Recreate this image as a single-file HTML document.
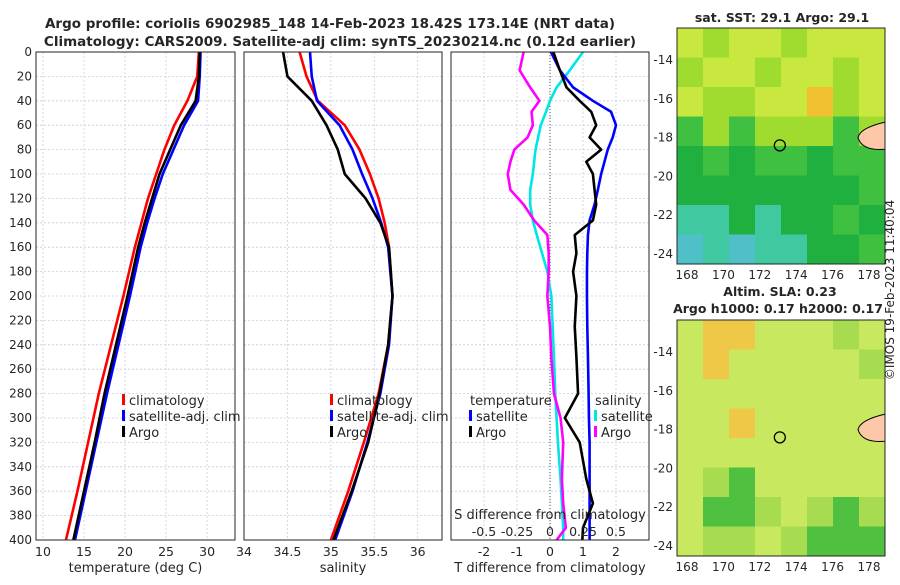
<!DOCTYPE html>
<html><head><meta charset="utf-8"><style>
body{margin:0;background:#fff;font-family:"Liberation Sans","DejaVu Sans",sans-serif}
svg text{font-family:"DejaVu Sans","Liberation Sans",sans-serif;fill:#262626}
</style></head><body>
<svg id="s" width="900" height="580" viewBox="0 0 900 580" xmlns="http://www.w3.org/2000/svg">
<text x="330" y="28" font-size="13.5" font-weight="bold" text-anchor="middle">Argo profile: coriolis 6902985_148 14-Feb-2023 18.42S 173.14E (NRT data)</text>
<text x="340" y="46" font-size="13.5" font-weight="bold" text-anchor="middle">Climatology: CARS2009. Satellite-adj clim: synTS_20230214.nc (0.12d earlier)</text>
<g id="g"></g>
<text x="782" y="22" font-size="12.5" font-weight="bold" text-anchor="middle">sat. SST: 29.1 Argo: 29.1</text>
<text x="780" y="296" font-size="12.5" font-weight="bold" text-anchor="middle">Altim. SLA: 0.23</text>
<text x="778" y="313" font-size="12.5" font-weight="bold" text-anchor="middle">Argo h1000: 0.17 h2000: 0.17</text>
<text transform="translate(894,290) rotate(-90)" font-size="12" text-anchor="middle">©IMOS 19-Feb-2023 11:40:04</text>
</svg>
<script>
const depthTicks=[0,20,40,60,80,100,120,140,160,180,200,220,240,260,280,300,320,340,360,380,400];
const depthClim=[0,20,40,60,80,100,120,140,160,200,240,280,320,360,400];
const tempClim=[29,28.8,27.6,26,24.8,23.8,22.8,22,21.2,19.8,18.3,16.8,15.5,14.2,12.8];
const tempSat=[29.2,29.1,28.9,27.2,25.9,24.6,23.6,22.7,21.9,20.6,19.2,17.8,16.5,15.2,13.9];
const tempArgo=[29.1,29.0,28.6,26.8,25.5,24.2,23.3,22.4,21.6,20.3,18.9,17.5,16.3,15.0,13.7];
const salClim=[34.64,34.72,34.85,35.16,35.33,35.45,35.55,35.62,35.67,35.71,35.66,35.55,35.38,35.2,35.0];
const salSat=[34.76,34.78,34.84,35.1,35.25,35.36,35.48,35.58,35.66,35.71,35.67,35.57,35.42,35.25,35.05];
const salArgo=[34.45,34.5,34.78,34.95,35.08,35.16,35.4,35.57,35.67,35.71,35.66,35.56,35.43,35.24,35.03];
const dDepth=[0,15,29,40,49,60,70,80,90,100,113,125,138,150,165,180,200,225,250,280,300,320,350,370,390,400];
const tDiffSat=[0.03,0.3,0.7,1.3,1.85,2.0,1.9,1.75,1.65,1.55,1.45,1.35,1.2,1.15,1.13,1.12,1.12,1.13,1.15,1.17,1.18,1.2,1.2,1.2,1.2,1.2];
const tDiffArgo=[0.1,0.3,0.5,0.9,1.25,1.4,1.2,1.55,1.1,1.3,1.35,1.4,1.3,0.75,0.8,0.7,0.8,0.75,0.8,0.85,0.45,0.9,1.1,1.3,1.0,0.98];
const sDiffSat=[0.25,0.15,0.05,0,-0.03,-0.07,-0.09,-0.11,-0.12,-0.13,-0.15,-0.15,-0.13,-0.1,-0.06,-0.02,0.01,0.02,0.03,0.04,0.05,0.06,0.08,0.09,0.1,0.1];
const sDiffArgo=[-0.2,-0.23,-0.15,-0.08,-0.14,-0.13,-0.17,-0.27,-0.3,-0.32,-0.3,-0.2,-0.12,-0.02,-0.01,-0.01,-0.02,0.0,0.01,0.03,0.08,0.1,0.09,0.1,0.12,0.05];
const tempTicks=[10,15,20,25,30];
const salTicks=[34,34.5,35,35.5,36];
const tdTicks=[-2,-1,0,1,2];
const sdTicks=[-0.5,-0.25,0,0.25,0.5];
const latTicks=[-14,-16,-18,-20,-22,-24];
const lonTicks=[168,170,172,174,176,178];

const NS='http://www.w3.org/2000/svg',G=document.getElementById('g');
function el(t,a,p){const e=document.createElementNS(NS,t);for(const k in a)e.setAttribute(k,a[k]);(p||G).appendChild(e);return e;}
const Y0=52,Y1=540,yD=d=>Y0+(Y1-Y0)*d/400;
function panel(x0,x1,xmin,xmax,name){
  const xs=v=>x0+(x1-x0)*(v-xmin)/(xmax-xmin);
  const g=el('g',{});
  
  
  return {g,xs};
}
function grid(P,x0,x1,xt){
  depthTicks.forEach(d=>{const l=el('line',{x1:x0,x2:x1,y1:yD(d),y2:yD(d),stroke:'#c8cde0','stroke-width':0.8,'stroke-dasharray':'2,2'},P.g);});
  xt.forEach(v=>{const l=el('line',{x1:P.xs(v),x2:P.xs(v),y1:Y0,y2:Y1,stroke:'#c8cde0','stroke-width':0.8,'stroke-dasharray':'2,2'},P.g);});
}
function frame(P,x0,x1,xt,lab,labelName,ytick){
  const r=el('rect',{x:x0,y:Y0,width:x1-x0,height:Y1-Y0,fill:'none',stroke:'#262626','stroke-width':1},P.g);
  
  xt.forEach(v=>{const t=el('text',{x:P.xs(v),y:556,'font-size':12.5,'text-anchor':'middle'},P.g);t.textContent=v;});
  if(ytick)depthTicks.forEach(d=>{const t=el('text',{x:x0-4,y:yD(d)+4,'font-size':12,'text-anchor':'end'},P.g);t.textContent=d;});
  const t=el('text',{x:(x0+x1)/2,y:572,'font-size':13,'text-anchor':'middle'},P.g);t.textContent=lab;
}
function line(P,xv,dv,col,name,xs){
  const f=xs||P.xs;
  const p=el('polyline',{points:xv.map((v,i)=>f(v)+','+yD(dv[i])).join(' '),fill:'none',stroke:col,'stroke-width':2.6,'stroke-linejoin':'round'},P.g);
  
}
function legend(P,x,y,items,head){
  let yy=y;
  if(head){const t=el('text',{x:x,y:yy,'font-size':13},P.g);t.textContent=head;yy+=16;}
  items.forEach(([c,s])=>{const r=el('rect',{x:x-1,y:yy-11,width:3,height:11,fill:c},P.g);
    const t=el('text',{x:x+6,y:yy,'font-size':13},P.g);t.textContent=s;yy+=16;});
}
// panel 1
let P=panel(36,235,9.15,33.4,'temperature-panel');
grid(P,36,235,tempTicks);
line(P,tempClim,depthClim,'#ff0000','climatology-temp-line');
line(P,tempSat,depthClim,'#0000ff','satellite-temp-line');
line(P,tempArgo,depthClim,'#000000','argo-temp-line');
frame(P,36,235,tempTicks,'temperature (deg C)','x-axis-title-temp',true);
legend(P,123,405,[['#ff0000','climatology'],['#0000ff','satellite-adj. clim'],['#000','Argo']]);
// panel 2
P=panel(244,442,34,36.28,'salinity-panel');
grid(P,244,442,salTicks);
line(P,salClim,depthClim,'#ff0000','climatology-sal-line');
line(P,salSat,depthClim,'#0000ff','satellite-sal-line');
line(P,salArgo,depthClim,'#000000','argo-sal-line');
frame(P,244,442,salTicks,'salinity','x-axis-title-sal',false);
legend(P,331,405,[['#ff0000','climatology'],['#0000ff','satellite-adj. clim'],['#000','Argo']]);
// panel 3
P=panel(451,649,-3,3,'difference-panel');
const sx=v=>451+198*(v+0.75)/1.5;
grid(P,451,649,tdTicks);
const z=el('line',{x1:P.xs(0),x2:P.xs(0),y1:Y0,y2:Y1,stroke:'#555','stroke-width':1,'stroke-dasharray':'1,2'},P.g);

line(P,sDiffSat,dDepth,'#00e5e5','sal-diff-satellite-line',sx);
line(P,sDiffArgo,dDepth,'#ff00ff','sal-diff-argo-line',sx);
line(P,tDiffSat,dDepth,'#0000ff','temp-diff-satellite-line');
line(P,tDiffArgo,dDepth,'#000000','temp-diff-argo-line');
frame(P,451,649,tdTicks,'T difference from climatology','x-axis-title-tdiff',false);
legend(P,470,405,[['#0000ff','satellite'],['#000','Argo']],'temperature');
legend(P,595,405,[['#00e5e5','satellite'],['#ff00ff','Argo']],'salinity');
let t=el('text',{x:550,y:519,'font-size':13,'text-anchor':'middle'},P.g);t.textContent='S difference from climatology';
sdTicks.forEach(v=>{const q=el('text',{x:sx(v),y:536,'font-size':12.5,'text-anchor':'middle'},P.g);q.textContent=v;});
// maps
function map(y0,name,cells,labY){
  const x0=677,x1=885,y1=y0+236,g=el('g',{});
  
  const rows=cells.length,cols=cells[0].length,cw=(x1-x0)/cols,ch=(y1-y0)/rows;
  cells.forEach((r,i)=>r.forEach((c,j)=>{el('rect',{x:x0+j*cw,y:y0+i*ch,width:cw+0.5,height:ch+0.5,fill:c},g);}));
  const lx=v=>687+(v-168)*18.2,ly=v=>y0+32+(-14-v)*19.4;
  el('path',{d:`M885 ${ly(-17.2)} Q860 ${ly(-17.5)} 858 ${ly(-18)} Q862 ${ly(-18.7)} 885 ${ly(-18.6)} Z`,fill:'#fcc8a8',stroke:'#000','stroke-width':1},g);
  const c=el('circle',{cx:lx(173.1),cy:ly(-18.4),r:5.5,fill:'none',stroke:'#000','stroke-width':1.3},g);
  
  el('rect',{x:x0,y:y0,width:x1-x0,height:y1-y0,fill:'none',stroke:'#262626'},g);
  latTicks.forEach(v=>{const q=el('text',{x:x0-4,y:ly(v)+4,'font-size':12,'text-anchor':'end'},g);q.textContent=v;});
  lonTicks.forEach(v=>{const q=el('text',{x:lx(v),y:labY,'font-size':12,'text-anchor':'middle'},g);q.textContent=v;});
}
const Yc='#c8e840',Lg='#a0dc30',Gr='#40c040',Dg='#20b040',Tl='#40c8a0',Cy='#50c0c8',Og='#f0c030';
map(28,'sst-map',[
 [Yc,Lg,Yc,Yc,Lg,Yc,Yc,Yc],
 [Lg,Yc,Yc,Lg,Yc,Yc,Lg,Yc],
 [Yc,Lg,Lg,Yc,Yc,Og,Lg,Yc],
 [Gr,Lg,Gr,Lg,Lg,Lg,Gr,Lg],
 [Dg,Gr,Dg,Gr,Gr,Dg,Gr,Gr],
 [Dg,Dg,Dg,Dg,Dg,Dg,Dg,Gr],
 [Tl,Tl,Dg,Tl,Dg,Dg,Gr,Dg],
 [Cy,Tl,Cy,Tl,Tl,Dg,Dg,Gr]],279);
const Ly='#c8e860',Lo='#f0c848',Lgr='#a8dc50',Mg='#50c040';
map(320,'sla-map',[
 [Ly,Lo,Lo,Ly,Ly,Ly,Lgr,Ly],
 [Ly,Lo,Ly,Ly,Ly,Ly,Ly,Lgr],
 [Ly,Ly,Ly,Ly,Ly,Ly,Ly,Ly],
 [Ly,Ly,Lo,Ly,Ly,Ly,Ly,Ly],
 [Ly,Ly,Ly,Ly,Ly,Ly,Ly,Ly],
 [Ly,Lgr,Mg,Ly,Ly,Ly,Ly,Ly],
 [Ly,Mg,Mg,Lgr,Ly,Lgr,Mg,Lgr],
 [Ly,Lgr,Lgr,Ly,Lgr,Mg,Mg,Mg]],571);
</script>
</body></html>
